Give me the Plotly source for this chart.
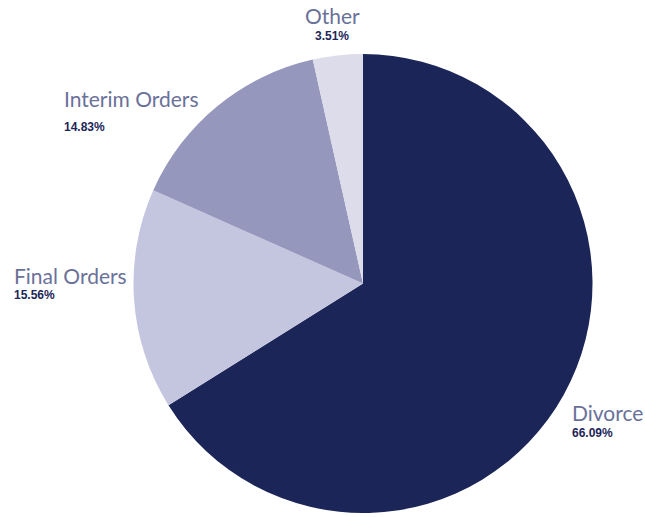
import plotly.graph_objects as go

# Share of applications by type
categories = ["Divorce", "Final Orders", "Interim Orders", "Other"]
shares = [66.09, 15.56, 14.83, 3.51]
slice_colors = ["#1b2558", "#c4c5df", "#9597bd", "#dcdcea"]

# Label anchor positions in pixels: (x, name top, percent top, alignment)
label_pos = {
    "Divorce": (570, 398, 424, "left"),
    "Final Orders": (12, 261, 286, "left"),
    "Interim Orders": (62, 84, 118, "left"),
    "Other": (332, 1, 27, "center"),
}

W, H = 645, 517

fig = go.Figure(
    go.Pie(
        labels=categories,
        values=shares,
        sort=False,
        direction="clockwise",
        rotation=0,
        marker=dict(colors=slice_colors, line=dict(width=0)),
        textinfo="none",
        hoverinfo="label+percent",
        domain=dict(x=[133 / W, 593 / W], y=[1 - 513 / H, 1 - 54 / H]),
        showlegend=False,
    )
)

for name, val in zip(categories, shares):
    px, name_top, pct_top, align = label_pos[name]
    xanchor = "center" if align == "center" else "left"
    fig.add_annotation(
        x=px / W, y=1 - name_top / H, xref="paper", yref="paper",
        xanchor=xanchor, yanchor="top", showarrow=False,
        text=name,
        font=dict(family="Lato", size=21, color="#6a7199"),
    )
    fig.add_annotation(
        x=px / W, y=1 - pct_top / H, xref="paper", yref="paper",
        xanchor=xanchor, yanchor="top", showarrow=False,
        text=f"<b>{val:.2f}%</b>",
        font=dict(family="Liberation Sans", size=12, color="#1b2558"),
    )

fig.update_layout(
    width=W, height=H,
    margin=dict(l=0, r=0, t=0, b=0),
    paper_bgcolor="white",
    plot_bgcolor="white",
)

fig.write_html("out.html")
